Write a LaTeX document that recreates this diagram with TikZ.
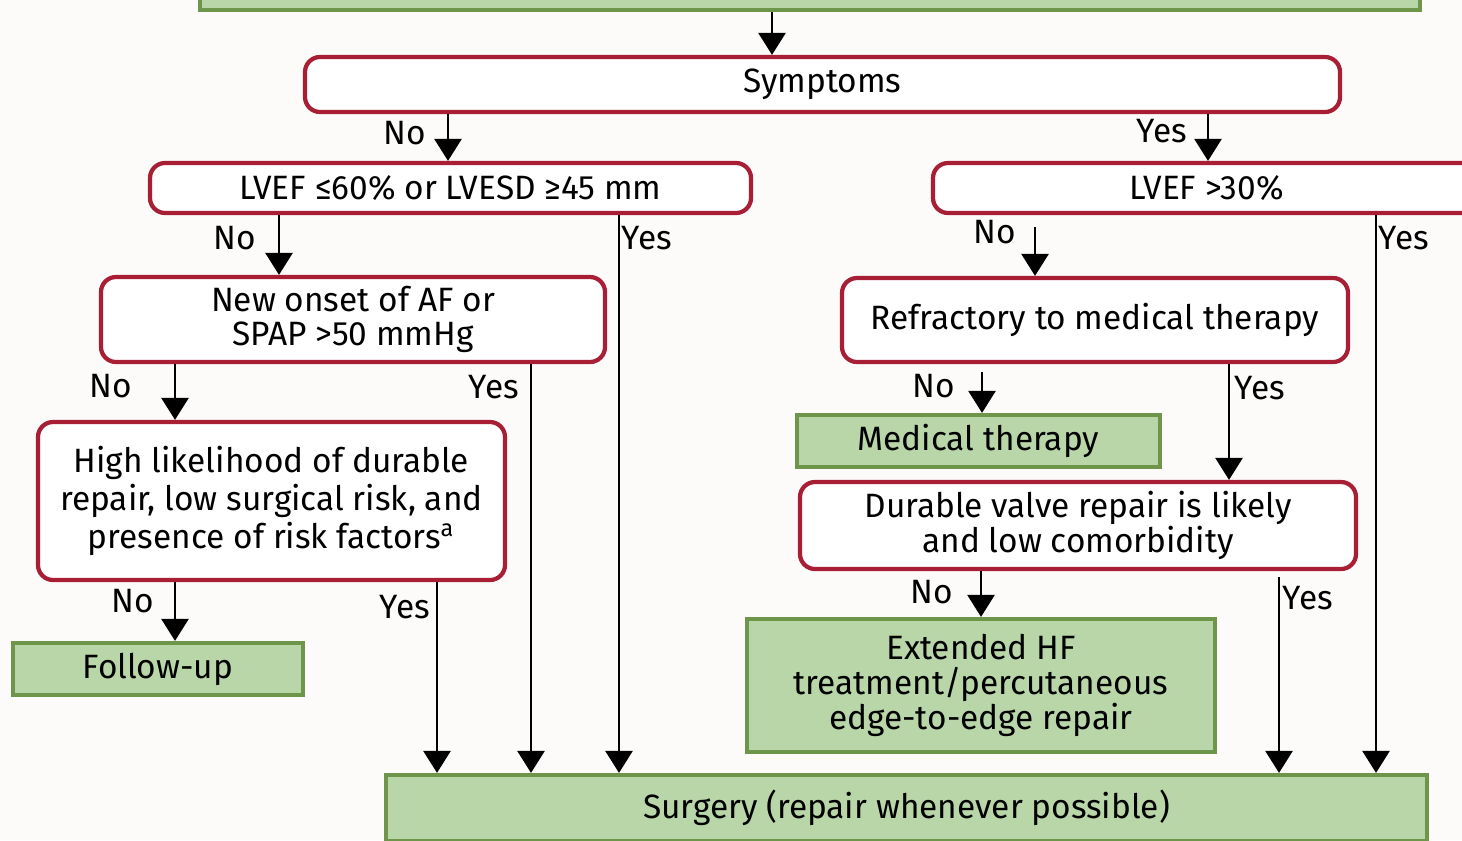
\documentclass[tikz,border=0pt]{standalone}
\usepackage{fontspec}
\setmainfont{Fira Sans}[FakeStretch=0.99]
\usetikzlibrary{arrows.meta}
\usetikzlibrary{positioning}

\definecolor{boxred}{RGB}{168,30,53}
\definecolor{boxgreen}{RGB}{185,214,168}
\definecolor{edgegreen}{RGB}{110,150,75}
\definecolor{paper}{RGB}{252,251,250}

\tikzset{
  decision/.style={draw=boxred, line width=1.2pt, fill=white, rounded corners=0.15cm,
    align=center, inner sep=0pt},
  action/.style={draw=edgegreen, line width=1.2pt, fill=boxgreen,
    align=center, inner sep=0pt},
  arr/.style={line width=0.75pt, -{Triangle[length=0.22cm,width=0.27cm]}},
  lbl/.style={inner sep=0pt}
}

\begin{document}
\begin{tikzpicture}[font=\fontsize{9.6}{9.9}\selectfont]
      \clip (0,0) rectangle (14.62,-8.40);
      \fill[paper] (0,0) rectangle (14.62,-8.40);
      % boxes
      \node[action, minimum width=12.20cm, minimum height=0.60cm] (top) at (8.10, 0.20) {};
      \node[decision, minimum width=10.35cm, minimum height=0.55cm] (symp) at (8.225, -0.845) {Symptoms};
      \node[decision, minimum width=6.01cm, minimum height=0.50cm] (lvefA) at (4.505, -1.88) {LVEF ≤60\% or LVESD ≥45 mm};
      \node[decision, minimum width=5.47cm, minimum height=0.50cm] (lvefB) at (12.065, -1.88) {LVEF >30\%};
      \node[decision, minimum width=5.04cm, minimum height=0.85cm] (onset) at (3.53, -3.195) {New onset of AF or\\SPAP >50 mmHg};
      \node[decision, minimum width=5.06cm, minimum height=0.84cm] (refr) at (10.95, -3.20) {\raisebox{0.08cm}{Refractory to medical therapy}};
      \node[decision, minimum width=4.67cm, minimum height=1.58cm] (likely) at (2.715, -5.01)
        {High likelihood of durable\\[1pt]repair, low surgical risk, and\\[1pt]presence of risk factors\textsuperscript{a}};
      \node[action, minimum width=3.63cm, minimum height=0.52cm] (medic) at (9.785, -4.41) {Medical therapy};
      \node[decision, minimum width=5.56cm, minimum height=0.87cm] (durable) at (10.78, -5.255)
        {Durable valve repair is likely\\and low comorbidity};
      \node[action, minimum width=2.90cm, minimum height=0.52cm] (follow) at (1.58, -6.69) {Follow-up};
      \node[action, minimum width=4.68cm, minimum height=1.33cm] (ext) at (9.81, -6.855)
        {Extended HF\\treatment/percutaneous\\edge-to-edge repair};
      \node[action, minimum width=10.41cm, minimum height=0.66cm] (surg) at (9.065, -8.08) {Surgery (repair whenever possible)};
      % connectors
      \draw[arr] ([xshift=-0.38cm]top.south) -- ([xshift=-0.38cm]top.south |- symp.north);
      \draw[arr] ([xshift=-3.745cm]symp.south) -- ([xshift=-3.745cm]symp.south |- lvefA.north);
      \draw[arr] ([xshift=3.855cm]symp.south) -- ([xshift=3.855cm]symp.south |- lvefB.north);
      \draw[arr] ([xshift=-1.715cm]lvefA.south) -- ([xshift=-1.715cm]lvefA.south |- onset.north);
      \draw[arr] ([xshift=1.685cm]lvefA.south) -- ([xshift=1.685cm]lvefA.south |- surg.north);
      \draw[arr] ([xshift=-1.715cm,yshift=-0.12cm]lvefB.south) -- ([xshift=-1.715cm]lvefB.south |- refr.north);
      \draw[arr] ([xshift=1.695cm]lvefB.south) -- ([xshift=1.695cm]lvefB.south |- surg.north);
      \draw[arr] ([xshift=-1.78cm]onset.south) -- ([xshift=-1.78cm]onset.south |- likely.north);
      \draw[arr] ([xshift=1.78cm]onset.south) -- ([xshift=1.78cm]onset.south |- surg.north);
      \draw[arr] ([xshift=-0.965cm]likely.south) -- ([xshift=-0.965cm]likely.south |- follow.north);
      \draw[arr] ([xshift=1.655cm]likely.south) -- ([xshift=1.655cm]likely.south |- surg.north);
      \draw[arr] ([xshift=-1.13cm,yshift=-0.08cm]refr.south) -- ([xshift=-1.13cm]refr.south |- medic.north);
      \draw[arr] ([xshift=1.34cm]refr.south) -- ([xshift=1.34cm]refr.south |- durable.north);
      \draw[arr] ([xshift=-0.97cm]durable.south) -- ([xshift=-0.97cm]durable.south |- ext.north);
      \draw[arr] ([xshift=2.01cm,yshift=-0.06cm]durable.south) -- ([xshift=2.01cm]durable.south |- surg.north);
      % labels
      \node[lbl] (nS) at (4.05, -1.33) {No};
      \node[lbl] (yS) at (11.62, -1.31) {Yes};
      \node[lbl] (nA) at (2.35, -2.38) {No};
      \node[lbl] (yA) at (6.47, -2.38) {Yes};
      \node[lbl] (nB) at (9.95, -2.32) {No};
      \node[lbl] (yB) at (14.04, -2.38) {Yes};
      \node[lbl] (nO) at (1.11, -3.86) {No};
      \node[lbl] (yO) at (4.94, -3.87) {Yes};
      \node[lbl] (nR) at (9.34, -3.86) {No};
      \node[lbl] (yR) at (12.60, -3.88) {Yes};
      \node[lbl] (nL) at (1.33, -6.01) {No};
      \node[lbl] (yL) at (4.05, -6.07) {Yes};
      \node[lbl] (nD) at (9.32, -5.92) {No};
      \node[lbl] (yD) at (13.08, -5.98) {Yes};
    \end{tikzpicture}
\end{document}
